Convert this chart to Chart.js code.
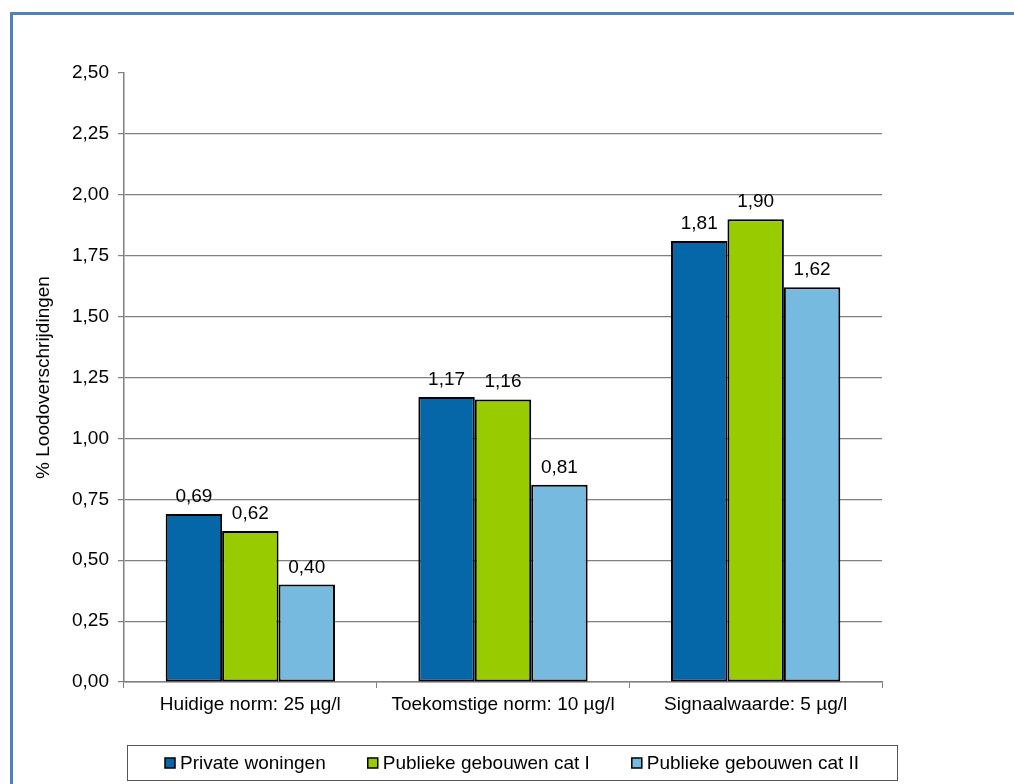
<!DOCTYPE html>
<html>
<head>
<meta charset="utf-8">
<script src="https://cdn.jsdelivr.net/npm/chart.js@4/dist/chart.umd.min.js"></script>
<style>
    html, body { margin: 0; padding: 0; background: #fff; }
    #wrap { position: relative; width: 1014px; height: 784px; overflow: hidden; }
    #frame {
        position: absolute; left: 10px; top: 12px; width: 1100px; height: 900px;
        border-left: 3px solid #4f81bd; border-top: 3px solid #4f81bd;
    }
    canvas { position: absolute; left: 0; top: 0; }
</style>
</head>
<body>
<div id="wrap">
    <div id="frame"></div>
    <canvas id="chart" width="1014" height="784"></canvas>
</div>
<script>
// Gegevens
const categories = ['Huidige norm: 25 µg/l', 'Toekomstige norm: 10 µg/l', 'Signaalwaarde: 5 µg/l'];
const seriesNames = ['Private woningen', 'Publieke gebouwen cat I', 'Publieke gebouwen cat II'];
const privateWoningen = [0.69, 1.17, 1.81];
const publiekeCatI = [0.62, 1.16, 1.90];
const publiekeCatII = [0.40, 0.81, 1.62];
const seriesColors = ['#0566a8', '#99cc00', '#76bbdf'];
const yMax = 2.5;
const yStep = 0.25;

const fontFamily = '"Liberation Sans", Arial, sans-serif';
const fontSize = 19;

function formatNl(v) {
    return v.toFixed(2).replace('.', ',');
}

// Waarden boven de staven
const valueLabels = {
    id: 'valueLabels',
    afterDatasetsDraw(chart) {
        const ctx = chart.ctx;
        ctx.save();
        ctx.font = fontSize + 'px ' + fontFamily;
        ctx.fillStyle = '#000';
        ctx.textAlign = 'center';
        ctx.textBaseline = 'alphabetic';
        chart.data.datasets.forEach((ds, i) => {
            chart.getDatasetMeta(i).data.forEach((bar, j) => {
                ctx.fillText(formatNl(ds.data[j]), bar.x, bar.y - 12);
            });
        });
        ctx.restore();
    }
};

// Legende met kader onder de grafiek
const boxLegend = {
    id: 'boxLegend',
    afterDraw(chart) {
        const ctx = chart.ctx;
        const sq = 10, txtGap = 5, itemGap = 42;
        const boxLeft = 127.5, boxRight = 897.5, boxTop = 745.5, boxBottom = 780.5;
        const cy = 763;
        ctx.save();
        ctx.font = fontSize + 'px ' + fontFamily;
        const widths = seriesNames.map(n => ctx.measureText(n).width);
        const total = widths.reduce((a, w) => a + sq + txtGap + w, 0) + itemGap * (seriesNames.length - 1);
        let x = Math.round((boxLeft + boxRight) / 2 - total / 2);

        ctx.strokeStyle = '#555';
        ctx.lineWidth = 1;
        ctx.strokeRect(boxLeft, boxTop, boxRight - boxLeft, boxBottom - boxTop);

        ctx.textBaseline = 'middle';
        ctx.textAlign = 'left';
        seriesNames.forEach((name, i) => {
            ctx.fillStyle = seriesColors[i];
            ctx.fillRect(x, cy - sq / 2, sq, sq);
            ctx.strokeStyle = '#000';
            ctx.lineWidth = 1.5;
            ctx.strokeRect(x, cy - sq / 2, sq, sq);
            ctx.fillStyle = '#000';
            ctx.fillText(name, x + sq + txtGap, cy + 1);
            x += sq + txtGap + widths[i] + itemGap;
        });
        ctx.restore();
    }
};

const datasets = [privateWoningen, publiekeCatI, publiekeCatII].map((data, i) => ({
    label: seriesNames[i],
    data: data,
    backgroundColor: seriesColors[i],
    borderColor: '#000',
    borderWidth: 2,
    borderSkipped: false,
    categoryPercentage: 0.67,
    barPercentage: 1.0
}));

new Chart(document.getElementById('chart').getContext('2d'), {
    type: 'bar',
    data: { labels: categories, datasets: datasets },
    options: {
        responsive: false,
        animation: false,
        layout: { padding: { left: 20, right: 132, top: 73, bottom: 62 } },
        plugins: {
            tooltip: { enabled: false },
            legend: { display: false }
        },
        scales: {
            x: {
                afterFit: (scale) => { scale.height = 40; },
                grid: {
                    offset: true,
                    drawOnChartArea: false,
                    tickLength: 6,
                    color: '#808080',
                    lineWidth: 1
                },
                border: { color: '#808080', width: 1.5 },
                ticks: {
                    font: { family: fontFamily, size: fontSize },
                    color: '#000',
                    padding: 5
                }
            },
            y: {
                min: 0,
                max: yMax,
                afterFit: (scale) => { scale.width = 104; },
                ticks: {
                    stepSize: yStep,
                    font: { family: fontFamily, size: fontSize },
                    color: '#000',
                    padding: 9,
                    callback: (v) => formatNl(v)
                },
                grid: {
                    color: (c) => (c.tick && c.tick.value === yMax) ? 'rgba(0,0,0,0)' : '#808080',
                    tickColor: '#808080',
                    tickLength: 6,
                    lineWidth: 1.2
                },
                border: { color: '#808080', width: 1.5 },
                title: {
                    display: true,
                    text: '% Loodoverschrijdingen',
                    font: { family: fontFamily, size: fontSize },
                    color: '#000',
                    padding: { top: 12, bottom: 0 }
                }
            }
        }
    },
    plugins: [valueLabels, boxLegend]
});
</script>
</body>
</html>
